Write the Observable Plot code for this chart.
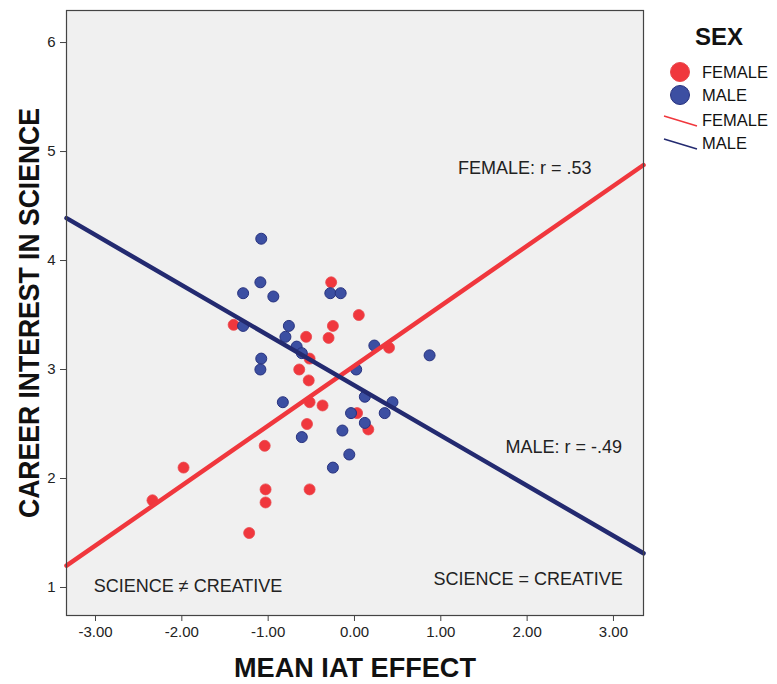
<!DOCTYPE html>
<html><head><meta charset="utf-8">
<script src="https://cdn.jsdelivr.net/npm/d3@7"></script>
<script src="https://cdn.jsdelivr.net/npm/@observablehq/plot@0.6"></script>
<style>
body{margin:0;background:#fff;}
#chart{position:relative;width:777px;height:684px;}
</style>
</head><body><div id="chart"></div>
<script>
// Female points (MEAN IAT EFFECT, CAREER INTEREST IN SCIENCE)
const femaleX = [-0.27, 0.05, -1.40, -0.25, -0.56, -0.30, -0.52, 0.40, -0.64, -0.53, -0.52, -0.37, 0.03, -0.55, 0.16, -1.04, -1.98, -2.34, -1.03, -1.03, -0.52, -1.22];
const femaleY = [3.80, 3.50, 3.41, 3.40, 3.30, 3.29, 3.10, 3.20, 3.00, 2.90, 2.70, 2.67, 2.60, 2.50, 2.45, 2.30, 2.10, 1.80, 1.90, 1.78, 1.90, 1.50];
// Male points
const maleX = [-1.08, -1.29, -1.09, -0.94, -0.28, -0.16, -1.29, -0.76, -0.80, -0.67, -0.61, -1.08, -1.09, 0.23, 0.87, 0.02, -0.83, 0.12, 0.44, -0.04, 0.35, 0.12, -0.61, -0.14, -0.06, -0.25];
const maleY = [4.20, 3.70, 3.80, 3.67, 3.70, 3.70, 3.40, 3.40, 3.30, 3.21, 3.15, 3.10, 3.00, 3.22, 3.13, 3.00, 2.70, 2.75, 2.70, 2.60, 2.60, 2.51, 2.38, 2.44, 2.22, 2.10];
// Fit lines (intercept, slope) per sex
const fitSex = ["FEMALE", "MALE"];
const fitIntercept = [3.035, 2.854];
const fitSlope = [0.55, -0.46];
const fitLabels = ["FEMALE: r = .53", "MALE: r = -.49"];
const cornerNotes = ["SCIENCE \u2260 CREATIVE", "SCIENCE = CREATIVE"];
const xTicks = [-3, -2, -1, 0, 1, 2, 3];
const yTicks = [1, 2, 3, 4, 5, 6];
const xDomain = [-3.336, 3.348];
const yDomain = [0.743, 6.294];

const points = [
  ...femaleX.map((x, i) => ({sex: "FEMALE", x, y: femaleY[i]})),
  ...maleX.map((x, i) => ({sex: "MALE", x, y: maleY[i]}))
];
const fitLines = fitSex.flatMap((s, i) => xDomain.map(x => ({sex: s, x, y: fitIntercept[i] + fitSlope[i] * x})));

const RED = "#f0373d", BLUE = "#3c4fa2", BLUE_STROKE = "#27327f", NAVY = "#232a70";
const FONT = "'Liberation Sans', Arial, sans-serif";

const chart = Plot.plot({
  width: 777, height: 684,
  marginLeft: 66, marginRight: 134, marginTop: 10, marginBottom: 69,
  style: {fontFamily: FONT, color: "#222", background: "transparent"},
  x: {domain: xDomain},
  y: {domain: yDomain},
  marks: [
    Plot.frame({fill: "#f0f0f0"}),
    Plot.axisX({ticks: xTicks, tickSize: 6, tickPadding: 5, fontSize: 15, label: null, tickFormat: d => d.toFixed(2), stroke: "#444"}),
    Plot.axisY({ticks: yTicks, tickSize: 6, tickPadding: 5, fontSize: 15, label: null, tickFormat: d => String(d), stroke: "#444"}),
    Plot.dot(points.filter(d => d.sex === "FEMALE"), {x: "x", y: "y", r: 5.5, fill: RED, stroke: "#e8474c", strokeWidth: 0.8}),
    Plot.dot(points.filter(d => d.sex === "MALE"), {x: "x", y: "y", r: 5.5, fill: BLUE, stroke: BLUE_STROKE, strokeWidth: 1}),
    Plot.line(fitLines, {x: "x", y: "y", z: "sex", stroke: d => d.sex === "FEMALE" ? RED : NAVY, strokeWidth: 4.5}),
    Plot.text([fitLabels[0]], {x: 1.2, y: 4.85, text: d => d, textAnchor: "start", fontSize: 18, fill: "#222"}),
    Plot.text([fitLabels[1]], {x: 1.75, y: 2.29, text: d => d, textAnchor: "start", fontSize: 18, fill: "#222"}),
    Plot.text([cornerNotes[0]], {x: -3.02, y: 1.01, text: d => d, textAnchor: "start", fontSize: 18, fill: "#222"}),
    Plot.text([cornerNotes[1]], {x: 0.915, y: 1.08, text: d => d, textAnchor: "start", fontSize: 18, fill: "#222"}),
    Plot.frame({stroke: "#444", strokeWidth: 1.2})
  ]
});
document.getElementById("chart").appendChild(chart);

const svg = d3.select(chart);
// Axis titles
svg.append("text").attr("x", 355).attr("y", 677).attr("text-anchor", "middle")
  .attr("font-family", FONT).attr("font-weight", "bold").attr("font-size", 27)
  .attr("textLength", 242).attr("lengthAdjust", "spacingAndGlyphs").attr("fill", "#111")
  .text("MEAN IAT EFFECT");
svg.append("text").attr("transform", "translate(39,313) rotate(-90)").attr("text-anchor", "middle")
  .attr("font-family", FONT).attr("font-weight", "bold").attr("font-size", 29)
  .attr("textLength", 410).attr("lengthAdjust", "spacingAndGlyphs").attr("fill", "#111")
  .text("CAREER INTEREST IN SCIENCE");

// Legend
const lg = svg.append("g").attr("font-family", FONT).attr("fill", "#111");
lg.append("text").attr("x", 719).attr("y", 45).attr("text-anchor", "middle")
  .attr("font-weight", "bold").attr("font-size", 24).text("SEX");
const legendItems = [
  {kind: "dot", label: "FEMALE", color: RED, stroke: "#e8474c", y: 72},
  {kind: "dot", label: "MALE", color: BLUE, stroke: BLUE_STROKE, y: 95},
  {kind: "line", label: "FEMALE", color: RED, y: 120},
  {kind: "line", label: "MALE", color: NAVY, y: 143}
];
legendItems.forEach(it => {
  if (it.kind === "dot") {
    lg.append("circle").attr("cx", 680).attr("cy", it.y).attr("r", 9.5)
      .attr("fill", it.color).attr("stroke", it.stroke).attr("stroke-width", 1);
  } else {
    lg.append("line").attr("x1", 664).attr("y1", it.y - 4).attr("x2", 697).attr("y2", it.y + 6)
      .attr("stroke", it.color).attr("stroke-width", 1.5);
  }
  lg.append("text").attr("x", 702).attr("y", it.y + 6).attr("text-anchor", "start")
    .attr("font-size", 16.5).text(it.label);
});
</script>
</body></html>
